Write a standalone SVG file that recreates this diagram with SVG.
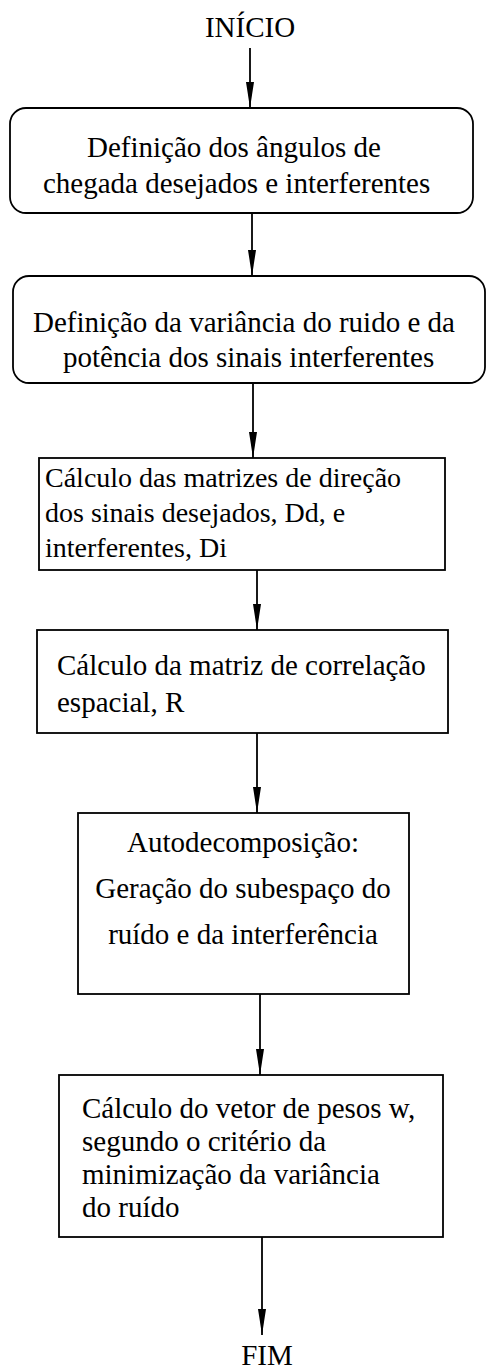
<svg xmlns="http://www.w3.org/2000/svg" width="487" height="1371" viewBox="0 0 487 1371">
<style>
  text { font-family: "Liberation Serif", "Times New Roman", serif; font-size: 29px; fill: #000; }
  .sm { font-size: 28px; }
  .box { fill: none; stroke: #000; stroke-width: 1.8; }
  .conn { stroke: #000; stroke-width: 1.8; fill: none; }
</style>
<defs>
  <marker id="arr" markerWidth="26" markerHeight="10" refX="26" refY="5" orient="auto" markerUnits="userSpaceOnUse">
    <path d="M0,1 L26,5 L0,9 Z" fill="#000"/>
  </marker>
</defs>
<rect width="487" height="1371" fill="#fff"/>
<g id="connectors">
  <line class="conn" x1="250" y1="48" x2="250" y2="108" marker-end="url(#arr)"/>
  <line class="conn" x1="252" y1="213" x2="252" y2="276" marker-end="url(#arr)"/>
  <line class="conn" x1="253" y1="383" x2="253" y2="458" marker-end="url(#arr)"/>
  <line class="conn" x1="257" y1="570" x2="257" y2="630" marker-end="url(#arr)"/>
  <line class="conn" x1="257" y1="733" x2="257" y2="813" marker-end="url(#arr)"/>
  <line class="conn" x1="260" y1="994" x2="260" y2="1075" marker-end="url(#arr)"/>
  <line class="conn" x1="262" y1="1237" x2="262" y2="1335" marker-end="url(#arr)"/>
</g>
<g id="inicio">
  <text x="250" y="37" text-anchor="middle">INÍCIO</text>
</g>
<g id="n1">
  <rect class="box" x="10" y="108" width="463" height="105" rx="16"/>
  <text x="87" y="157">Definição dos ângulos de</text>
  <text x="43" y="193">chegada desejados e interferentes</text>
</g>
<g id="n2">
  <rect class="box" x="13" y="276" width="472" height="107" rx="16"/>
  <text x="33" y="332">Definição da variância do ruido e da</text>
  <text x="63" y="367">potência dos sinais interferentes</text>
</g>
<g id="n3">
  <rect class="box" x="39" y="458" width="406" height="112"/>
  <text class="sm" x="45" y="487">Cálculo das matrizes de direção</text>
  <text class="sm" x="45" y="522">dos sinais desejados, Dd, e</text>
  <text class="sm" x="45" y="557">interferentes, Di</text>
</g>
<g id="n4">
  <rect class="box" x="37" y="630" width="411" height="103"/>
  <text x="57" y="675">Cálculo da matriz de correlação</text>
  <text x="57" y="712">espacial, R</text>
</g>
<g id="n5">
  <rect class="box" x="78" y="813" width="331" height="181"/>
  <text x="243" y="852" text-anchor="middle">Autodecomposição:</text>
  <text x="243" y="898" text-anchor="middle">Geração do subespaço do</text>
  <text x="243" y="944" text-anchor="middle">ruído e da interferência</text>
</g>
<g id="n6">
  <rect class="box" x="59" y="1075" width="384" height="162"/>
  <text x="82" y="1118">Cálculo do vetor de pesos w,</text>
  <text x="82" y="1151">segundo o critério da</text>
  <text x="82" y="1184">minimização da variância</text>
  <text x="82" y="1217">do ruído</text>
</g>
<g id="fim">
  <text x="267" y="1365" text-anchor="middle">FIM</text>
</g>
</svg>
